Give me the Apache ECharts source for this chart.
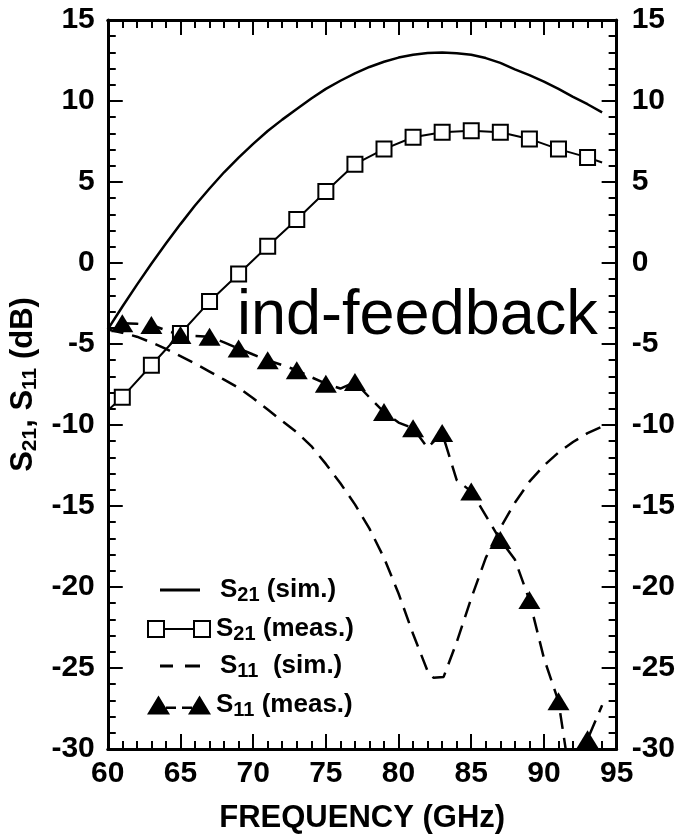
<!DOCTYPE html>
<html>
<head>
<meta charset="utf-8">
<script src="https://cdn.jsdelivr.net/npm/echarts@6/dist/echarts.min.js"></script>
<style>html,body{margin:0;padding:0;background:#fff}#c{width:678px;height:839px}</style>
</head>
<body>
<div id="c"></div>
<script>
// ---- data ----
const xTicks = [60, 65, 70, 75, 80, 85, 90, 95];
const yTicks = [-30, -25, -20, -15, -10, -5, 0, 5, 10, 15];

const s21SimF  = [60,61,62,63,64,65,66,67,68,69,70,71,72,73,74,75,76,77,78,79,80,81,82,83,84,85,86,87,88,89,90,91,92,93,94];
const s21SimDb = [-4.1,-2.7,-1.35,-0.05,1.2,2.4,3.55,4.6,5.6,6.5,7.35,8.15,8.85,9.5,10.15,10.75,11.25,11.7,12.1,12.42,12.68,12.86,12.97,13.0,12.95,12.85,12.65,12.35,11.95,11.6,11.2,10.75,10.25,9.8,9.3];

const s11SimF  = [60,61,62,63,64,65,66,67,68,69,70,71,72,73,74,75,76,77,78,79,80,81,82,82.4,83.1,84,85,86,87,88,89,90,91,92,93,94];
const s11SimDb = [-4.1,-4.3,-4.55,-4.9,-5.3,-5.75,-6.2,-6.7,-7.2,-7.7,-8.35,-9.05,-9.75,-10.45,-11.3,-12.4,-13.6,-14.9,-16.4,-18.2,-20.4,-22.9,-25.2,-25.6,-25.55,-23.4,-20.7,-18.2,-16.35,-14.8,-13.5,-12.5,-11.7,-11.05,-10.5,-10.1];

// measured S21: trace and marker points
const s21MeasTraceF  = [60,61,63,65,67,69,71,73,75,77,79,81,83,85,87,89,91,93,94];
const s21MeasTraceDb = [-9.1,-8.28,-6.31,-4.35,-2.38,-0.68,1.03,2.69,4.41,6.1,7.03,7.76,8.07,8.17,8.07,7.66,7.03,6.52,6.2];
const s21MeasF  = [61,63,65,67,69,71,73,75,77,79,81,83,85,87,89,91,93];
const s21MeasDb = [-8.28,-6.31,-4.35,-2.38,-0.68,1.03,2.69,4.41,6.1,7.03,7.76,8.07,8.17,8.07,7.66,7.03,6.52];

// measured S11: trace and marker points
const s11MeasTraceF  = [61,62,63,64,65,66,67,68,69,70,71,72,73,74,75,76,77,78,79,80,81,82,83,84,85,86,87,88,89,90,91,92,93,94];
const s11MeasTraceDb = [-3.72,-3.75,-3.83,-4.15,-4.45,-4.5,-4.55,-4.9,-5.28,-5.65,-6.0,-6.3,-6.62,-7.05,-7.45,-7.75,-7.35,-8.3,-9.2,-9.85,-10.2,-11.4,-10.5,-13.4,-14.1,-15.6,-17.1,-18.3,-20.8,-24.4,-27.06,-33,-29.4,-27.3];
const s11MeasF  = [61,63,65,67,69,71,73,75,77,79,81,83,85,87,89,91,93];
const s11MeasDb = [-3.72,-3.83,-4.45,-4.55,-5.28,-6.0,-6.62,-7.45,-7.35,-9.2,-10.2,-10.5,-14.1,-17.1,-20.8,-27.06,-29.4];

const seriesNames = ['S21 (sim.)', 'S21 (meas.)', 'S11  (sim.)', 'S11 (meas.)'];
const legendRich = {
  'S21 (sim.)':  '{m|S}{s|21}{m| (sim.)}',
  'S21 (meas.)': '{m|S}{s|21}{m| (meas.)}',
  'S11  (sim.)': '{m|S}{s|11}{m|  (sim.)}',
  'S11 (meas.)': '{m|S}{s|11}{m| (meas.)}'
};
const xName = 'FREQUENCY (GHz)';
const yName = '{m|S}{s|21}{m|, S}{s|11}{m| (dB)}';
const annotation = 'ind-feedback';

// ---- chart ----
const zip = (a, b) => a.map((v, i) => [v, b[i]]);
const FONT = '"Liberation Sans", Arial, Helvetica, sans-serif';
const chart = echarts.init(document.getElementById('c'), null, {renderer: 'canvas'});

const tickCommon = {
  axisLine: {show: true, onZero: false, lineStyle: {color: '#000', width: 3}},
  axisTick: {show: true, inside: true, length: 15, lineStyle: {color: '#000', width: 2}},
  minorTick: {show: true, splitNumber: 5, length: 8, lineStyle: {color: '#000', width: 2}},
  splitLine: {show: false},
  minorSplitLine: {show: false}
};
const labelStyle = {color: '#000', fontSize: 30, fontWeight: 'bold', fontFamily: FONT};

const richText = (main, sub, lhMain, lhSub) => ({
  m: {fontSize: main, fontWeight: 'bold', fontFamily: FONT, color: '#000', lineHeight: lhMain},
  s: {fontSize: sub, fontWeight: 'bold', fontFamily: FONT, color: '#000', lineHeight: lhSub, verticalAlign: 'bottom'}
});

const legendIcons = {
  'S21 (sim.)':  'path://M0,0H40V3H0Z',
  'S21 (meas.)': 'path://M0,0H18V18H0Z M2,2V16H16V2Z M18,8H46V10H18Z M46,0H64V18H46Z M48,2V16H62V2Z',
  'S11  (sim.)': 'path://M0,0H13V3H0Z M25,0H40V3H25Z',
  'S11 (meas.)': 'path://M0,19L11.5,0L23,19Z M19,11H29V13.5H19Z M35,11H45V13.5H35Z M41,19L52.5,0L64,19Z'
};
const legendPos = [
  {left: 160, top: 577, w: 40, h: 3, pad: 15},
  {left: 147, top: 616, w: 64, h: 18, pad: 0},
  {left: 160, top: 653, w: 40, h: 3, pad: 15},
  {left: 147, top: 692, w: 64, h: 19, pad: 0}
];
const legends = seriesNames.map((n, i) => ({
  show: true,
  left: legendPos[i].left,
  top: legendPos[i].top,
  padding: 0,
  itemWidth: legendPos[i].w,
  itemHeight: legendPos[i].h,
  selectedMode: false,
  data: [{name: n, icon: legendIcons[n], itemStyle: {color: '#000', borderWidth: 0, opacity: 1}}],
  formatter: name => legendRich[name],
  textStyle: {color: '#000', fontSize: 26, fontWeight: 'bold', fontFamily: FONT,
    padding: [0, 0, 0, legendPos[i].pad], rich: richText(26, 20, 30, 8)}
}));

const option = {
  backgroundColor: '#fff',
  animation: false,
  grid: {left: 103, right: 59, top: 20, bottom: 87, containLabel: false},
  xAxis: [
    Object.assign({
      type: 'value', position: 'bottom', min: xTicks[0], max: xTicks[xTicks.length - 1], interval: 5,
      name: xName, nameLocation: 'middle', nameGap: 54,
      nameTextStyle: {color: '#000', fontSize: 31, fontWeight: 'bold', fontFamily: FONT},
      axisLabel: Object.assign({margin: 10, formatter: v => xTicks.includes(v) ? String(v) : ''}, labelStyle)
    }, tickCommon),
    Object.assign({
      type: 'value', position: 'top', min: xTicks[0], max: xTicks[xTicks.length - 1], interval: 5,
      axisLabel: {show: false}
    }, tickCommon)
  ],
  yAxis: [
    Object.assign({
      type: 'value', position: 'left', min: yTicks[0], max: yTicks[yTicks.length - 1], interval: 5,
      name: yName, nameLocation: 'middle', nameGap: 57, nameRotate: 90,
      nameTextStyle: {color: '#000', fontSize: 31, fontWeight: 'bold', fontFamily: FONT, rich: richText(31, 21, 34, 10)},
      axisLabel: Object.assign({margin: 13}, labelStyle)
    }, tickCommon),
    Object.assign({
      type: 'value', position: 'right', min: yTicks[0], max: yTicks[yTicks.length - 1], interval: 5,
      axisLabel: Object.assign({margin: 15}, labelStyle)
    }, tickCommon)
  ],
  legend: legends,
  series: [
    {name: seriesNames[0], type: 'line', data: zip(s21SimF, s21SimDb), symbol: 'none', clip: true,
      lineStyle: {color: '#000', width: 2.5, type: 'solid'}, z: 2},
    {name: seriesNames[2], type: 'line', data: zip(s11SimF, s11SimDb), symbol: 'none', clip: true,
      lineStyle: {color: '#000', width: 2.5, type: [16, 9]}, z: 2},
    {name: seriesNames[1], type: 'line', data: zip(s21MeasTraceF, s21MeasTraceDb), symbol: 'none', clip: true,
      lineStyle: {color: '#000', width: 2}, z: 3},
    {name: seriesNames[1], type: 'scatter', data: zip(s21MeasF, s21MeasDb), symbol: 'rect', symbolSize: 15,
      itemStyle: {color: '#fff', borderColor: '#000', borderWidth: 2, opacity: 1}, z: 4},
    {name: seriesNames[3], type: 'line', data: zip(s11MeasTraceF, s11MeasTraceDb), symbol: 'none', clip: true,
      lineStyle: {color: '#000', width: 2.5, type: [16, 9]}, z: 3},
    {name: seriesNames[3], type: 'scatter', data: zip(s11MeasF, s11MeasDb), symbol: 'triangle', symbolSize: [22, 18],
      itemStyle: {color: '#000', opacity: 1}, z: 4}
  ],
  graphic: [{
    type: 'text', left: 237, top: 285, z: 10,
    style: {text: annotation, font: 'normal 63px ' + FONT, fill: '#000'}
  }]
};
chart.setOption(option);
</script>
</body>
</html>
